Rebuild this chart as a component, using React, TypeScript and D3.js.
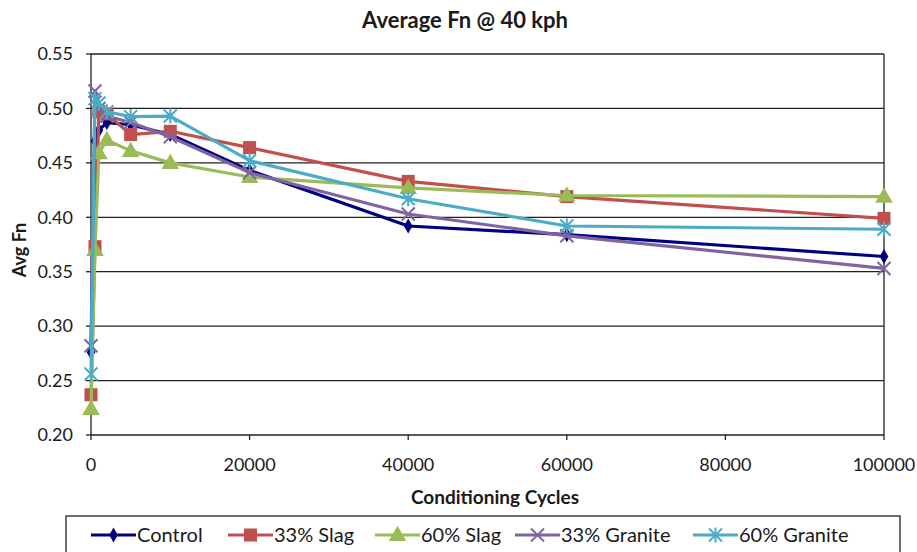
import React from "react";
import * as d3 from "d3";

const cycles = [0, 500, 1000, 2000, 5000, 10000, 20000, 40000, 60000, 100000];
const controlVals = [0.276, 0.47, 0.48, 0.487, 0.485, 0.476, 0.443, 0.392, 0.384, 0.364];
const slag33Vals = [0.237, 0.373, 0.497, 0.495, 0.476, 0.479, 0.464, 0.433, 0.419, 0.399];
const slag60Vals = [0.224, 0.37, 0.459, 0.471, 0.461, 0.45, 0.437, 0.427, 0.42, 0.419];
const granite33Vals = [0.282, 0.516, 0.5, 0.493, 0.487, 0.474, 0.441, 0.403, 0.383, 0.353];
const granite60Vals = [0.256, 0.509, 0.505, 0.497, 0.4925, 0.493, 0.452, 0.417, 0.392, 0.389];

const seriesNames = ["Control", "33% Slag", "60% Slag", "33% Granite", "60% Granite"];
const seriesColors = ["#000080", "#C0504D", "#9BBB59", "#8064A2", "#4BACC6"];
const seriesMarkers = ["diamond", "square", "triangle", "x", "star"];
const seriesValues = [controlVals, slag33Vals, slag60Vals, granite33Vals, granite60Vals];

const yTicks = [0.2, 0.25, 0.3, 0.35, 0.4, 0.45, 0.5, 0.55];
const xTicks = [0, 20000, 40000, 60000, 80000, 100000];

const W = 917;
const H = 552;
const L = 91, R = 884, T = 54, B = 435;
const FONT = "Lato, 'Open Sans', sans-serif";
const TXT = "#1a1a1a";

const x = d3.scaleLinear().domain([0, 100000]).range([L, R]);
const y = d3.scaleLinear().domain([0.2, 0.55]).range([B, T]);

function Marker({ kind, cx, cy, color }: { kind: string; cx: number; cy: number; color: string }) {
  if (kind === "diamond") {
    const p = d3.symbol().type(d3.symbolDiamond).size(65)() as string;
    return <path d={p} transform={`translate(${cx},${cy})`} fill={color} />;
  }
  if (kind === "square") {
    const s = 13;
    return <rect x={cx - s / 2} y={cy - s / 2} width={s} height={s} fill={color} />;
  }
  if (kind === "triangle") {
    const p = d3.symbol().type(d3.symbolTriangle).size(135)() as string;
    return <path d={p} transform={`translate(${cx},${cy + 1})`} fill={color} />;
  }
  const r = 6.5;
  const xs = `M${cx - r},${cy - r}L${cx + r},${cy + r}M${cx - r},${cy + r}L${cx + r},${cy - r}`;
  if (kind === "x") {
    return <path d={xs} stroke={color} strokeWidth={2} fill="none" />;
  }
  return (
    <path d={xs + `M${cx},${cy - r - 1}L${cx},${cy + r + 1}`} stroke={color} strokeWidth={2} fill="none" />
  );
}

const legendX = [91, 228, 375, 515, 693];

export default function App() {
  const line = d3
    .line<number>()
    .x((_, i) => x(cycles[i]))
    .y((d) => y(d));

  return (
    <svg
      width={W}
      height={H}
      style={{ position: "absolute", left: 0, top: 0, background: "#fff" }}
      fontFamily={FONT}
    >
      <rect x={0} y={0} width={W} height={H} fill="#fff" />
      <text x={465} y={28} textAnchor="middle" fontSize={22} fontWeight="bold" fill={TXT}>
        Average Fn @ 40 kph
      </text>

      {yTicks.map((t) => (
        <g key={t}>
          {t > 0.2 && <line x1={L} x2={R} y1={y(t)} y2={y(t)} stroke="#222" strokeWidth={1.3} />}
          <line x1={L - 5} x2={L} y1={y(t)} y2={y(t)} stroke="#222" strokeWidth={1.3} />
          <text x={73} y={y(t)} dy="0.35em" textAnchor="end" fontSize={18} fill={TXT}>
            {t.toFixed(2)}
          </text>
        </g>
      ))}
      <line x1={R} x2={R} y1={T} y2={B} stroke="#222" strokeWidth={1.3} />
      <line x1={L} x2={L} y1={T} y2={B} stroke="#222" strokeWidth={1.3} />
      <line x1={L} x2={R} y1={B} y2={B} stroke="#222" strokeWidth={1.3} />
      {xTicks.map((t) => (
        <g key={t}>
          <line x1={x(t)} x2={x(t)} y1={B} y2={B + 5} stroke="#222" strokeWidth={1.3} />
          <text x={x(t)} y={465} dy="0.35em" textAnchor="middle" fontSize={18} fill={TXT}>
            {t}
          </text>
        </g>
      ))}
      <text x={495} y={504} textAnchor="middle" fontSize={19} fontWeight="bold" fill={TXT}>
        Conditioning Cycles
      </text>
      <text
        transform={`translate(26,250) rotate(-90)`}
        textAnchor="middle"
        fontSize={18}
        fontWeight="bold"
        fill={TXT}
      >
        Avg Fn
      </text>

      {seriesValues.map((vals, si) => (
        <g key={si}>
          <path d={line(vals) as string} fill="none" stroke={seriesColors[si]} strokeWidth={3.2} strokeLinejoin="round" />
          {vals.map((v, i) => (
            <Marker key={i} kind={seriesMarkers[si]} cx={x(cycles[i])} cy={y(v)} color={seriesColors[si]} />
          ))}
        </g>
      ))}

      <rect x={66} y={516} width={834} height={40} fill="#fff" stroke="#222" strokeWidth={1.3} />
      {seriesNames.map((n, i) => (
        <g key={n}>
          <line x1={legendX[i]} x2={legendX[i] + 45} y1={535} y2={535} stroke={seriesColors[i]} strokeWidth={3.2} />
          <Marker kind={seriesMarkers[i]} cx={legendX[i] + 22.5} cy={535} color={seriesColors[i]} />
          <text x={legendX[i] + 46} y={535} dy="0.35em" fontSize={20} fill={TXT}>
            {n}
          </text>
        </g>
      ))}
    </svg>
  );
}
